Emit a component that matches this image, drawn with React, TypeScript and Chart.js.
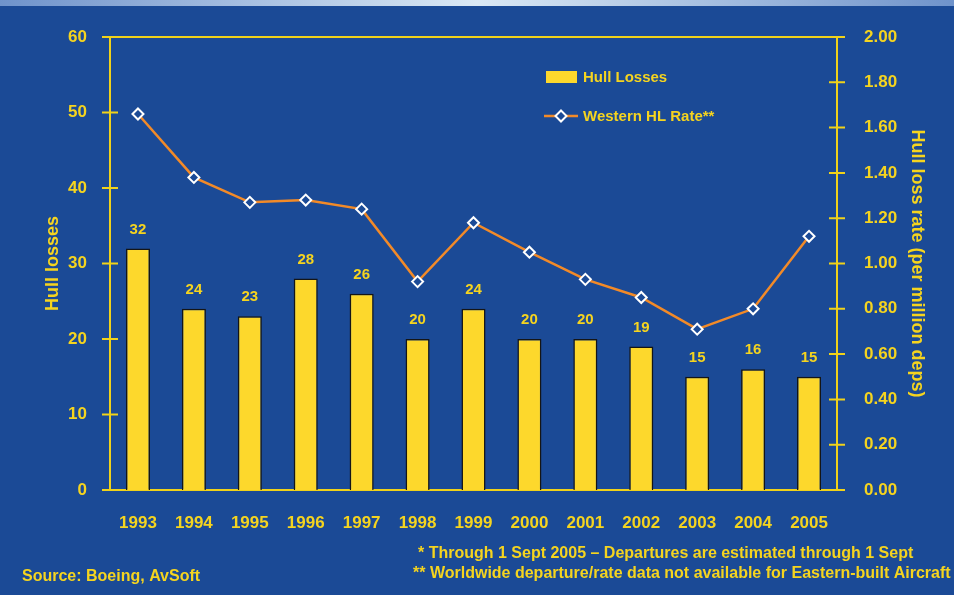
import { useEffect, useRef } from 'react';
import { Chart, registerables } from 'chart.js';

Chart.register(...registerables);

// ---------- data ----------
const years = ['1993', '1994', '1995', '1996', '1997', '1998', '1999', '2000', '2001', '2002', '2003', '2004', '2005'];
const hullLosses = [32, 24, 23, 28, 26, 20, 24, 20, 20, 19, 15, 16, 15];
const westernRate = [1.66, 1.38, 1.27, 1.28, 1.24, 0.92, 1.18, 1.05, 0.93, 0.85, 0.71, 0.8, 1.12];
const barLabel = 'Hull Losses';
const lineLabel = 'Western HL Rate**';
const leftTitle = 'Hull losses';
const rightTitle = 'Hull loss rate (per million deps)';
const leftMax = 60;
const leftStep = 10;
const rightMax = 2;
const rightStep = 0.2;
const footnotes = [
  '* Through 1 Sept 2005 \u2013 Departures are estimated through 1 Sept',
  '** Worldwide departure/rate data not available for Eastern-built Aircraft',
];
const sourceText = 'Source: Boeing, AvSoft';

// ---------- styles ----------
const BG = '#1b4a96';
const BAR = '#fdd82c';
const TEXT = '#f5d41f';
const AXIS = '#f0d21a';
const ORANGE = '#f28a28';
const FONT = "'Liberation Sans', Arial, sans-serif";

const decorPlugin = {
  id: 'decor',
  beforeDraw(chart: any) {
    const { ctx, width, height } = chart;
    ctx.save();
    ctx.fillStyle = BG;
    ctx.fillRect(0, 0, width, height);
    const g = ctx.createLinearGradient(0, 0, width, 0);
    g.addColorStop(0, '#6f93cb');
    g.addColorStop(0.5, '#dbe9f5');
    g.addColorStop(1, '#6f93cb');
    ctx.fillStyle = g;
    ctx.fillRect(0, 0, width, 6);
    ctx.fillStyle = '#ffffff';
    ctx.fillRect(0, height - 3, width, 3);
    ctx.restore();
  },
  beforeDatasetsDraw(chart: any) {
    const { ctx, chartArea, scales } = chart;
    const { left, right, top, bottom } = chartArea;
    ctx.save();
    ctx.strokeStyle = AXIS;
    ctx.lineWidth = 2;
    ctx.beginPath();
    ctx.moveTo(left, top);
    ctx.lineTo(right, top);
    ctx.moveTo(left, bottom);
    ctx.lineTo(right, bottom);
    ctx.moveTo(left, top - 1);
    ctx.lineTo(left, bottom + 1);
    ctx.moveTo(right, top - 1);
    ctx.lineTo(right, bottom + 1);
    scales.y.ticks.forEach((t: any) => {
      const py = scales.y.getPixelForValue(t.value);
      ctx.moveTo(left - 8, py);
      ctx.lineTo(left + 8, py);
    });
    scales.y1.ticks.forEach((t: any) => {
      const py = scales.y1.getPixelForValue(t.value);
      ctx.moveTo(right - 8, py);
      ctx.lineTo(right + 8, py);
    });
    ctx.stroke();
    ctx.restore();
  },
  afterDatasetsDraw(chart: any) {
    const { ctx } = chart;
    ctx.save();
    // bar value labels
    const barIndex = chart.data.datasets.findIndex((d: any) => d.type === 'bar');
    const meta = chart.getDatasetMeta(barIndex);
    const values = chart.data.datasets[barIndex].data;
    ctx.fillStyle = TEXT;
    ctx.font = `bold 15px ${FONT}`;
    ctx.textAlign = 'center';
    ctx.textBaseline = 'middle';
    meta.data.forEach((el: any, i: number) => {
      ctx.fillText(String(values[i]), el.x, el.y - 19);
    });

    // legend
    const lineIndex = chart.data.datasets.findIndex((d: any) => d.type === 'line');
    const barDs = chart.data.datasets[barIndex];
    const lineDs = chart.data.datasets[lineIndex];
    const lx = 546;
    ctx.fillStyle = barDs.backgroundColor;
    ctx.fillRect(lx, 71, 31, 12);
    ctx.textAlign = 'left';
    ctx.fillStyle = TEXT;
    ctx.font = `bold 15px ${FONT}`;
    ctx.fillText(barDs.label, 583, 77.5);

    const ly = 116;
    ctx.strokeStyle = lineDs.borderColor;
    ctx.lineWidth = lineDs.borderWidth;
    ctx.beginPath();
    ctx.moveTo(544, ly);
    ctx.lineTo(578, ly);
    ctx.stroke();
    const r = lineDs.pointRadius;
    ctx.beginPath();
    ctx.moveTo(561, ly - r);
    ctx.lineTo(561 + r, ly);
    ctx.lineTo(561, ly + r);
    ctx.lineTo(561 - r, ly);
    ctx.closePath();
    ctx.fillStyle = lineDs.pointBackgroundColor;
    ctx.fill();
    ctx.strokeStyle = lineDs.pointBorderColor;
    ctx.lineWidth = lineDs.pointBorderWidth;
    ctx.stroke();
    ctx.fillStyle = TEXT;
    ctx.fillText(lineDs.label, 583, ly + 0.5);

    // footnotes & source
    ctx.font = `bold 16px ${FONT}`;
    ctx.fillText(footnotes[0], 418, 554);
    ctx.fillText(footnotes[1], 413, 574);
    ctx.fillText(sourceText, 22, 577);
    ctx.restore();
  },
};

export default function App() {
  const canvasRef = useRef<HTMLCanvasElement | null>(null);

  useEffect(() => {
    document.body.style.margin = '0';
    const canvas = canvasRef.current;
    if (!canvas) return;
    const chart = new Chart(canvas, {
      data: {
        labels: years,
        datasets: [
          {
            type: 'line',
            label: lineLabel,
            data: westernRate,
            yAxisID: 'y1',
            borderColor: ORANGE,
            borderWidth: 2.5,
            pointStyle: 'rectRot',
            pointRadius: 5.5,
            pointBorderWidth: 2,
            pointBorderColor: '#ffffff',
            pointBackgroundColor: BG,
            tension: 0,
            order: 0,
          } as any,
          {
            type: 'bar',
            label: barLabel,
            data: hullLosses,
            yAxisID: 'y',
            backgroundColor: BAR,
            borderColor: '#151515',
            borderWidth: 1.5,
            categoryPercentage: 1,
            barPercentage: 0.43,
            order: 1,
          } as any,
        ],
      },
      options: {
        responsive: false,
        animation: false,
        events: [],
        layout: { padding: { left: 0, right: 0, top: 37, bottom: 0 } },
        plugins: {
          legend: { display: false },
          tooltip: { enabled: false },
        },
        scales: {
          x: {
            type: 'category',
            grid: { display: false },
            border: { display: false },
            ticks: {
              color: TEXT,
              font: { family: FONT, size: 17, weight: 'bold' },
              padding: 15,
              maxRotation: 0,
              autoSkip: false,
            },
            afterFit: (s: any) => {
              s.height = 108;
            },
          },
          y: {
            position: 'left',
            min: 0,
            max: leftMax,
            grid: { display: false },
            border: { display: false },
            ticks: {
              stepSize: leftStep,
              color: TEXT,
              font: { family: FONT, size: 17, weight: 'bold' },
              padding: 15,
            },
            title: {
              display: true,
              text: leftTitle,
              color: TEXT,
              font: { family: FONT, size: 18, weight: 'bold' },
              padding: { top: 42, bottom: 0 },
            },
            afterFit: (s: any) => {
              s.width = 110;
            },
          },
          y1: {
            position: 'right',
            min: 0,
            max: rightMax,
            grid: { display: false },
            border: { display: false },
            ticks: {
              stepSize: rightStep,
              color: TEXT,
              font: { family: FONT, size: 17, weight: 'bold' },
              padding: 19,
              callback: (v: any) => Number(v).toFixed(2),
            },
            title: {
              display: true,
              text: rightTitle,
              color: TEXT,
              font: { family: FONT, size: 18, weight: 'bold' },
              padding: { top: 26, bottom: 0 },
            },
            afterFit: (s: any) => {
              s.width = 117;
            },
          },
        },
      } as any,
      plugins: [decorPlugin],
    });
    return () => chart.destroy();
  }, []);

  return (
    <div style={{ position: 'fixed', left: 0, top: 0, width: 954, height: 598 }}>
      <canvas ref={canvasRef} width={954} height={598} style={{ display: 'block' }} />
    </div>
  );
}
